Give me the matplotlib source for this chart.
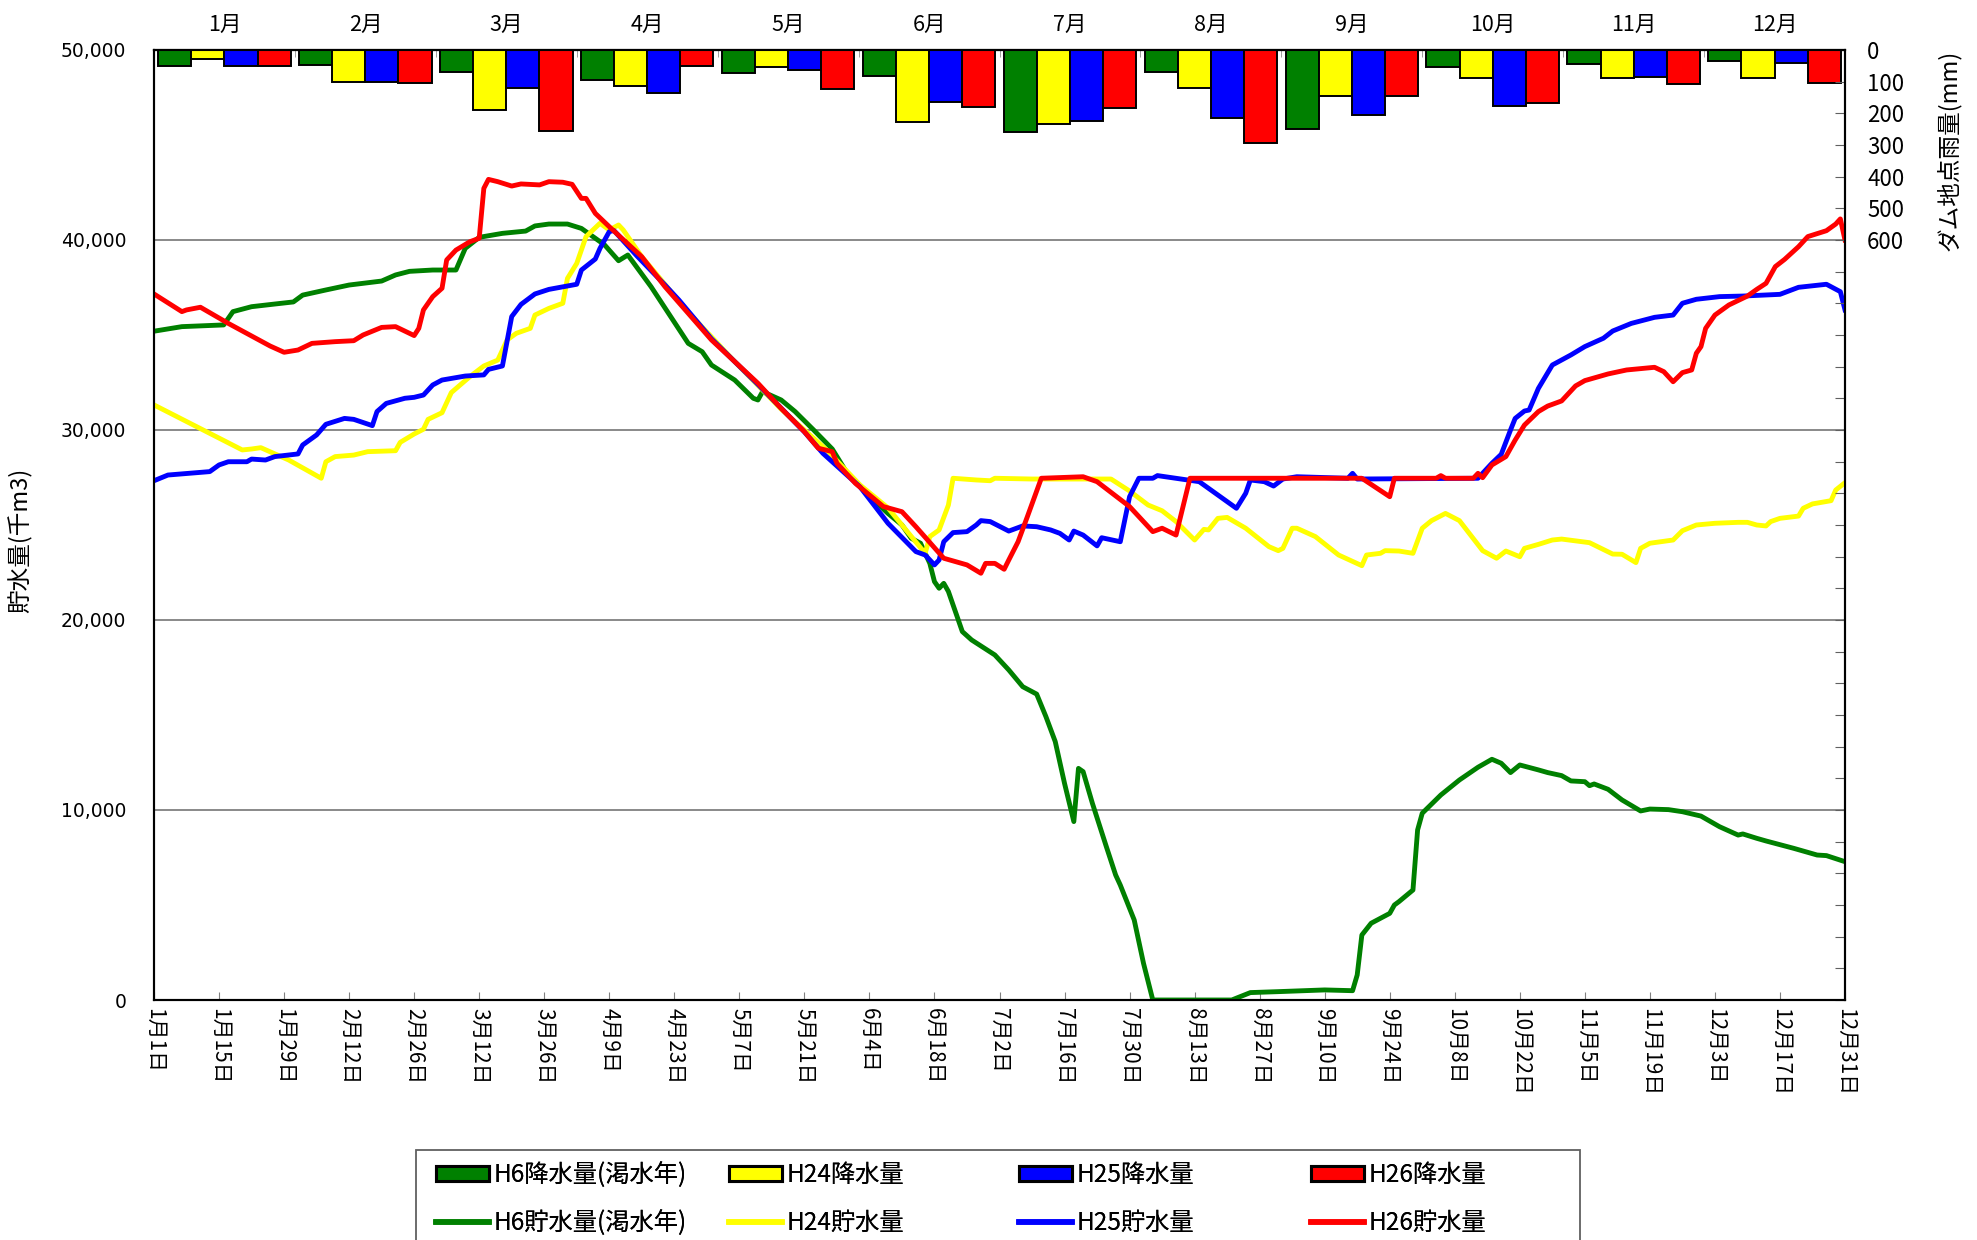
import datetime as dt

import matplotlib
matplotlib.use("Agg")
import matplotlib.pyplot as plt
import numpy as np
from matplotlib.lines import Line2D
from matplotlib.patches import Patch, Rectangle
from matplotlib.ticker import FuncFormatter

plt.rcParams["font.family"] = ["Noto Sans CJK JP", "DejaVu Sans"]

MONTHS = [f"{m}月" for m in range(1, 13)]
COLORS = ["#008000", "#FFFF00", "#0000FF", "#FF0000"]
RAIN_LABELS = ["H6降水量(渇水年)", "H24降水量", "H25降水量", "H26降水量"]
STORAGE_LABELS = ["H6貯水量(渇水年)", "H24貯水量", "H25貯水量", "H26貯水量"]

# monthly rainfall at the dam (mm)
RAIN_H6 = [50, 48, 68, 95, 74, 82, 260, 68, 248, 55, 45, 36]
RAIN_H24 = [27, 101, 189, 114, 53, 226, 234, 121, 144, 87, 88, 87]
RAIN_H25 = [50, 101, 119, 135, 63, 163, 223, 216, 204, 176, 84, 40]
RAIN_H26 = [50, 105, 256, 49, 124, 179, 182, 295, 145, 168, 107, 105]

# storage (1000 m3), (day of year from Jan 1, value)
STORAGE_H6 = [
    (0, 35200), (6, 35440), (15, 35530), (17, 36230), (21, 36490), (26, 36630), (30, 36740),
    (32, 37100), (37, 37370), (42, 37630), (49, 37840), (52, 38160), (55, 38350), (60, 38420),
    (65, 38420), (67, 39560), (70, 40140), (75, 40350), (80, 40470), (82, 40740), (85, 40840),
    (89, 40840), (92, 40610), (95, 40090), (97, 39740), (100, 38910), (102, 39210), (107, 37540),
    (111, 36050), (115, 34560), (118, 34120), (120, 33420), (125, 32630), (129, 31670),
    (130, 31580), (131, 32020), (135, 31580), (138, 30970), (142, 30000), (146, 29000),
    (149, 27810), (153, 26750), (158, 25610), (161, 25000), (163, 24300), (165, 24040),
    (167, 22980), (168, 22020), (169, 21670), (170, 21930), (171, 21500), (174, 19390),
    (176, 18950), (181, 18160), (184, 17370), (187, 16490), (190, 16100), (192, 14910),
    (194, 13600), (196, 11400), (198, 9390), (199, 12190), (200, 12020), (202, 10350),
    (205, 8070), (207, 6580), (208, 6050), (211, 4210), (213, 1930), (215, 0), (232, 0),
    (236, 390), (242, 440), (252, 530), (258, 490), (259, 1320), (260, 3420), (262, 4040),
    (266, 4560), (267, 5000), (268, 5180), (271, 5790), (272, 8950), (273, 9830), (277, 10790),
    (281, 11580), (285, 12250), (288, 12670), (290, 12460), (292, 11970), (294, 12370),
    (298, 12110), (300, 11970), (303, 11810), (305, 11530), (308, 11490), (309, 11280),
    (310, 11370), (313, 11090), (316, 10530), (320, 9950), (322, 10050), (326, 10020),
    (329, 9910), (333, 9680), (337, 9120), (341, 8680), (342, 8740), (345, 8510), (347, 8370),
    (353, 7980), (358, 7630), (360, 7600), (364, 7280),
]
STORAGE_H24 = [
    (0, 31320), (19, 28950), (21, 29000), (23, 29070), (29, 28420), (36, 27460), (37, 28330),
    (39, 28600), (43, 28680), (46, 28860), (52, 28910), (53, 29350), (56, 29790), (58, 30040),
    (59, 30560), (62, 30910), (64, 31970), (68, 32810), (71, 33370), (74, 33680), (76, 34740),
    (78, 35090), (81, 35350), (82, 36050), (85, 36400), (88, 36670), (89, 37980), (91, 38770),
    (93, 40180), (96, 40880), (98, 40530), (100, 40790), (101, 40530), (105, 39120),
    (115, 36200), (125, 33600), (135, 31100), (145, 28900), (152, 27100), (158, 25900),
    (162, 24700), (166, 23510), (167, 24390), (169, 24740), (171, 26050), (172, 27460),
    (177, 27370), (180, 27330), (181, 27460), (189, 27420), (206, 27420), (210, 26790),
    (214, 26050), (217, 25750), (220, 25180), (224, 24210), (226, 24770), (227, 24740),
    (229, 25350), (231, 25400), (235, 24830), (240, 23860), (242, 23650), (243, 23770),
    (245, 24830), (246, 24830), (250, 24390), (255, 23420), (260, 22860), (261, 23420),
    (264, 23510), (265, 23650), (268, 23630), (271, 23510), (273, 24830), (275, 25230),
    (278, 25610), (281, 25230), (286, 23650), (289, 23250), (291, 23630), (294, 23330),
    (295, 23770), (298, 23980), (301, 24210), (303, 24260), (309, 24070), (314, 23470),
    (316, 23460), (319, 23020), (320, 23770), (322, 24040), (327, 24210), (329, 24700),
    (332, 25000), (336, 25090), (341, 25140), (343, 25140), (345, 25000), (347, 24950),
    (348, 25180), (350, 25350), (354, 25470), (355, 25880), (357, 26110), (361, 26280),
    (362, 26840), (364, 27230),
]
STORAGE_H25 = [
    (0, 27330), (3, 27630), (12, 27810), (14, 28160), (16, 28330), (20, 28330), (21, 28470),
    (24, 28420), (26, 28600), (31, 28740), (32, 29210), (35, 29740), (37, 30300), (41, 30610),
    (43, 30560), (47, 30230), (48, 30970), (50, 31400), (54, 31670), (56, 31720), (58, 31840),
    (60, 32370), (62, 32630), (67, 32840), (71, 32900), (72, 33190), (75, 33370), (77, 35970),
    (79, 36610), (82, 37160), (85, 37400), (91, 37670), (92, 38420), (95, 39000), (96, 39560),
    (98, 40440), (99, 40500), (104, 39150), (110, 37630), (113, 36840), (120, 34800),
    (130, 32400), (140, 29900), (144, 28770), (152, 27000), (158, 25090), (164, 23600),
    (166, 23420), (168, 22900), (169, 23160), (170, 24120), (172, 24600), (175, 24650),
    (177, 25000), (178, 25230), (180, 25180), (184, 24680), (187, 24950), (190, 24910),
    (193, 24740), (195, 24560), (197, 24210), (198, 24680), (200, 24470), (203, 23900),
    (204, 24330), (208, 24120), (210, 26490), (212, 27460), (215, 27460), (216, 27600),
    (225, 27280), (233, 25880), (235, 26670), (236, 27370), (239, 27280), (241, 27050),
    (243, 27420), (246, 27540), (257, 27460), (258, 27720), (259, 27420), (285, 27460),
    (288, 28250), (290, 28720), (292, 30000), (293, 30610), (295, 31000), (296, 31050),
    (298, 32190), (301, 33420), (305, 33950), (308, 34390), (312, 34830), (314, 35210),
    (318, 35610), (323, 35930), (327, 36050), (329, 36670), (332, 36880), (337, 37020),
    (342, 37050), (350, 37140), (354, 37510), (360, 37670), (363, 37280), (364, 36320),
]
STORAGE_H26 = [
    (0, 37160), (6, 36230), (7, 36320), (10, 36460), (16, 35610), (25, 34420), (28, 34090),
    (31, 34210), (34, 34560), (39, 34650), (43, 34700), (45, 35000), (49, 35400), (52, 35440),
    (56, 34970), (57, 35350), (58, 36320), (60, 37020), (62, 37460), (63, 38950), (65, 39470),
    (68, 39910), (70, 40090), (71, 42720), (72, 43190), (74, 43070), (77, 42840), (79, 42950),
    (83, 42900), (85, 43070), (88, 43040), (90, 42930), (92, 42190), (93, 42190), (95, 41400),
    (98, 40700), (105, 39120), (110, 37540), (115, 36140), (120, 34740), (125, 33600),
    (130, 32460), (135, 31140), (140, 29910), (143, 29040), (146, 28860), (147, 28250),
    (151, 27190), (157, 25970), (161, 25700), (164, 24910), (170, 23250), (175, 22900),
    (178, 22460), (179, 22980), (181, 22980), (183, 22670), (184, 23160), (186, 24120),
    (188, 25440), (191, 27460), (200, 27540), (203, 27280), (210, 25970), (215, 24650),
    (217, 24830), (220, 24470), (223, 27460), (260, 27460), (266, 26490), (267, 27460),
    (276, 27460), (277, 27600), (278, 27460), (284, 27460), (285, 27720), (286, 27490),
    (288, 28160), (291, 28600), (293, 29470), (295, 30260), (298, 30970), (300, 31260),
    (303, 31530), (306, 32320), (308, 32600), (313, 32950), (317, 33160), (323, 33300),
    (325, 33070), (327, 32540), (329, 33020), (331, 33160), (332, 34040), (333, 34390),
    (334, 35350), (336, 36050), (339, 36580), (343, 37050), (345, 37400), (347, 37720),
    (349, 38600), (351, 38980), (354, 39650), (356, 40180), (360, 40490), (362, 40840),
    (363, 41110), (364, 40000),
]

RAIN = [RAIN_H6, RAIN_H24, RAIN_H25, RAIN_H26]
STORAGE = [STORAGE_H6, STORAGE_H24, STORAGE_H25, STORAGE_H26]

W, H = 1977, 1240
fig = plt.figure(figsize=(W / 100, H / 100), dpi=100)
ax = fig.add_axes([154 / W, 1 - 1000 / H, 1691 / W, 950 / H])

n_days = 364
ax.set_xlim(0, n_days)
ax.set_ylim(0, 50000)
ax.set_yticks(range(0, 50001, 10000))
ax.yaxis.set_major_formatter(FuncFormatter(lambda v, _: f"{v:,.0f}"))
ax.grid(axis="y", color="#808080", linewidth=1.3)
ax.set_axisbelow(True)

for series, color in zip(STORAGE, COLORS):
    days, vals = zip(*series)
    ax.plot(days, vals, color=color, linewidth=3.5, solid_joinstyle="round", zorder=3)

# bottom date ticks every 14 days
base = dt.date(2014, 1, 1)
tick_days = np.arange(0, n_days + 1, 14)
tick_labels = [f"{d.month}月{d.day}日" for d in (base + dt.timedelta(days=int(t)) for t in tick_days)]
ax.set_xticks(tick_days, tick_labels)
ax.tick_params(axis="x", direction="in", length=6, color="#808080", labelrotation=-90,
               labelsize=15, pad=6)
ax.tick_params(axis="y", length=0, pad=20)
for lab in ax.get_yticklabels():
    lab.set_fontfamily("DejaVu Sans")
    lab.set_fontsize(13.5)
ax.set_ylabel("貯水量(千m3)", fontsize=17)
ax.yaxis.set_label_coords(-0.0716, 0.484)

for sp in ax.spines.values():
    sp.set_linewidth(1.5)

# rainfall bars hang from the top on an inverted right axis
ax2 = ax.twinx()
ax2.set_ylim(3000, 0)
span = n_days / 12
bw = span * 0.235
centers = (np.arange(12) + 0.5) * span
for k, (rain, color) in enumerate(zip(RAIN, COLORS)):
    ax2.bar(centers + (k - 1.5) * bw, rain, width=bw, color=color, edgecolor="black", linewidth=1.4)
ax2.set_yticks(range(0, 3001, 100), [str(v) if v <= 600 else "" for v in range(0, 3001, 100)])
ax2.tick_params(axis="y", direction="in", length=7, color="#606060", labelsize=16, pad=16)
ax2.set_ylabel("ダム地点雨量(mm)", fontsize=17)
lbl = ax2.yaxis.label
lbl.set_rotation(90)
lbl.set_rotation_mode("default")
lbl.set_horizontalalignment("center")
lbl.set_verticalalignment("top")
ax2.yaxis.set_label_coords(1.0615, 1.0)
for sp in ax2.spines.values():
    sp.set_linewidth(1.5)

# month labels on top
top = ax.secondary_xaxis("top")
top.set_xticks(centers, MONTHS)
top.set_xticks(np.arange(1, 12) * span, minor=True)
top.tick_params(axis="x", which="major", length=0, labelsize=15.5, pad=10)
top.tick_params(axis="x", which="minor", direction="in", length=5, color="#909090")
top.spines["top"].set_linewidth(1.5)

# legend: two rows, four fixed columns in a box running off the bottom
fig.add_artist(Rectangle((416 / W, -0.02), 1164 / W, 0.02 + 90 / H, transform=fig.transFigure,
                         fill=False, edgecolor="#606060", linewidth=1.3))
col_x = [436, 729, 1019, 1311]
for x, color, rl, sl in zip(col_x, COLORS, RAIN_LABELS, STORAGE_LABELS):
    handles = [Patch(facecolor=color, edgecolor="black", linewidth=2.2),
               Line2D([], [], color=color, linewidth=4)]
    leg = fig.legend(handles, [rl, sl], loc="upper left", bbox_to_anchor=(x / W, 1 - 1162 / H),
                     frameon=False, fontsize=17.5, handlelength=2.2, handleheight=0.55,
                     handletextpad=0.15, labelspacing=0.9, borderpad=0, borderaxespad=0)
    fig.add_artist(leg)

fig.savefig("out.png", dpi=100)
